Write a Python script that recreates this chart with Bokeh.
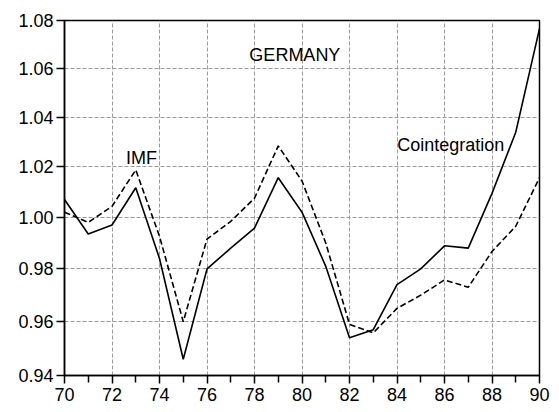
from bokeh.plotting import figure
from bokeh.models import Range1d, FixedTicker, PrintfTickFormatter, ColumnDataSource
from bokeh.core.properties import value
from bokeh.embed import file_html
from bokeh.resources import INLINE

years = list(range(70, 91))
cointegration = [1.007, 0.9935, 0.997, 1.0116, 0.984, 0.946, 0.980, 0.988, 0.9958, 1.0156,
                 1.002, 0.981, 0.954, 0.957, 0.974, 0.980, 0.9889, 0.988, 1.0094, 1.0338, 1.0766]
imf = [1.002, 0.998, 1.0043, 1.0187, 0.9926, 0.960, 0.9915, 0.9984, 1.0075, 1.0283,
       1.0143, 0.990, 0.959, 0.9558, 0.965, 0.970, 0.9758, 0.973, 0.9867, 0.9965, 1.0156]

x_ticks = [70, 72, 74, 76, 78, 80, 82, 84, 86, 88, 90]
x_minor = [71, 73, 75, 77, 79, 81, 83, 85, 87, 89]
y_ticks = [0.94, 0.96, 0.98, 1.00, 1.02, 1.04, 1.06, 1.08]

label_text = ["GERMANY", "IMF", "Cointegration"]
label_x = [79.7, 73.24, 86.26]
label_y = [1.0655, 1.0234, 1.0288]

FONT = "Liberation Sans"

p = figure(frame_width=475, frame_height=355, y_axis_type="log",
           x_range=Range1d(70, 90), y_range=Range1d(0.94, 1.08),
           output_backend="svg", toolbar_location=None,
           min_border_left=64, min_border_top=20, min_border_right=12, min_border_bottom=10)
p.background_fill_color = "white"
p.border_fill_color = "white"
p.outline_line_color = "black"
p.outline_line_width = 1.5

p.xaxis.ticker = FixedTicker(ticks=x_ticks, minor_ticks=x_minor)
p.yaxis.ticker = FixedTicker(ticks=y_ticks)
p.yaxis.formatter = PrintfTickFormatter(format="%.2f")

for ax in (p.xaxis, p.yaxis):
    ax.axis_line_color = "black"
    ax.axis_line_width = 1.5
    ax.major_tick_line_color = "black"
    ax.major_tick_line_width = 1.5
    ax.major_tick_in = 0
    ax.major_tick_out = 8
    ax.major_label_text_font = FONT
    ax.major_label_text_font_size = "18px"
    ax.major_label_text_color = "black"
p.xaxis.minor_tick_line_color = "black"
p.xaxis.minor_tick_line_width = 1.5
p.xaxis.minor_tick_in = 0
p.xaxis.minor_tick_out = 7
p.xaxis.major_label_standoff = 4
p.yaxis.minor_tick_line_color = None
p.yaxis.major_label_standoff = 3

p.xgrid.ticker = FixedTicker(ticks=x_ticks)
p.ygrid.ticker = FixedTicker(ticks=y_ticks)
for g in (p.xgrid, p.ygrid):
    g.grid_line_color = "#9a9a9a"
    g.grid_line_dash = "4 2"
    g.grid_line_width = 1

src = ColumnDataSource(dict(year=years, coint=cointegration, imf=imf))
p.line("year", "coint", source=src, line_color="black", line_width=1.6)
p.line("year", "imf", source=src, line_color="black", line_width=1.6, line_dash="6 3")

lab = ColumnDataSource(dict(x=label_x, y=label_y, t=label_text))
p.text("x", "y", text="t", source=lab, text_font=value(FONT), text_font_size="18px",
       text_color="black", text_align="center", text_baseline="alphabetic")

open("out.html", "w").write(file_html(p, INLINE))
